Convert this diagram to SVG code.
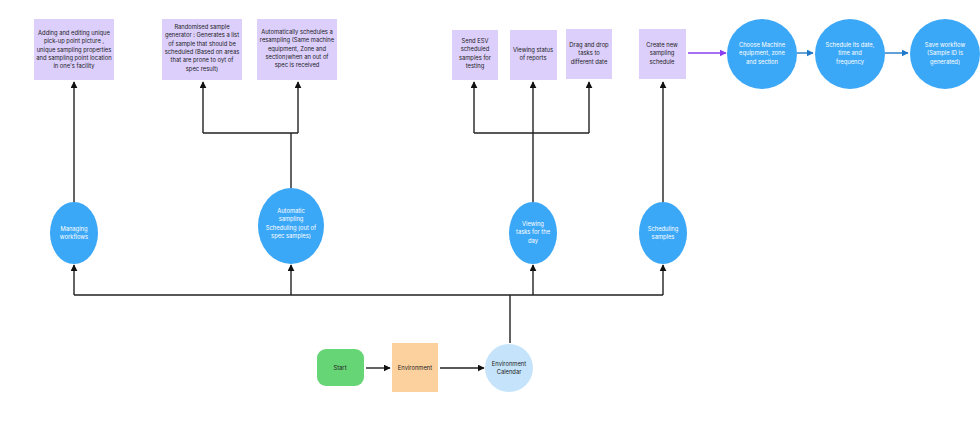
<svg xmlns="http://www.w3.org/2000/svg" width="980" height="437" viewBox="0 0 980 437">
<style>
text{font-family:Inter,"Liberation Sans",sans-serif;font-size:5.8px;text-anchor:middle}
.box{fill:#dccffc}
.bt{fill:#222}
.c{fill:#3ba7f7}
.ct{fill:#fff}
.l{stroke:#222;stroke-width:1.4;fill:none}
</style>
<defs>
<marker id="a" viewBox="0 0 10 10" refX="9" refY="5" markerWidth="5" markerHeight="5" orient="auto"><path d="M0 0L10 5L0 10z" fill="#111"/></marker>
<marker id="ap" viewBox="0 0 10 10" refX="9" refY="5" markerWidth="5" markerHeight="5" orient="auto"><path d="M0 0L10 5L0 10z" fill="#8a3ff0"/></marker>
<marker id="ab" viewBox="0 0 10 10" refX="9" refY="5" markerWidth="5" markerHeight="5" orient="auto"><path d="M0 0L10 5L0 10z" fill="#1f78c8"/></marker>
</defs>
<rect width="980" height="437" fill="#fff"/>
<g id="connectors">
<path class="l" d="M74 203V82" marker-end="url(#a)"/>
<path class="l" d="M291 188V133M203 133H298"/>
<path class="l" d="M298 133V82" marker-end="url(#a)"/>
<path class="l" d="M203 133V82" marker-end="url(#a)"/>
<path class="l" d="M533 203V133M474 133H589"/>
<path class="l" d="M474 133V82" marker-end="url(#a)"/>
<path class="l" d="M533 133V82" marker-end="url(#a)"/>
<path class="l" d="M589 133V82" marker-end="url(#a)"/>
<path class="l" d="M663 203V82" marker-end="url(#a)"/>
<path class="l" d="M510 343V295M74 295H663"/>
<path class="l" d="M74 295V265" marker-end="url(#a)"/>
<path class="l" d="M291 295V265" marker-end="url(#a)"/>
<path class="l" d="M533 295V265" marker-end="url(#a)"/>
<path class="l" d="M663 295V265" marker-end="url(#a)"/>
<path class="l" d="M366 368H390" marker-end="url(#a)"/>
<path class="l" d="M440 368H484" marker-end="url(#a)"/>
<path d="M688 53H726" stroke="#8a3ff0" stroke-width="1.4" marker-end="url(#ap)"/>
<path d="M797 53H813" stroke="#1f78c8" stroke-width="1.4" marker-end="url(#ab)"/>
<path d="M885 53H908" stroke="#1f78c8" stroke-width="1.4" marker-end="url(#ab)"/>
</g>
<g id="b1"><rect class="box" x="34" y="19" width="80" height="61"/><text class="bt" x="74" y="35">Adding and editing unique<tspan x="74" dy="8.3">pick-up point picture ,</tspan><tspan x="74" dy="8.3">unique sampling properties</tspan><tspan x="74" dy="8.3">and sampling point location</tspan><tspan x="74" dy="8.3">in one's facility</tspan></text></g>
<g id="b2"><rect class="box" x="162" y="19" width="80" height="61"/><text class="bt" x="202" y="29">Randomised sample<tspan x="202" dy="8.3">generator : Generates a list</tspan><tspan x="202" dy="8.3">of sample that should be</tspan><tspan x="202" dy="8.3">scheduled (Based on areas</tspan><tspan x="202" dy="8.3">that are prone to oyt of</tspan><tspan x="202" dy="8.3">spec result)</tspan></text></g>
<g id="b3"><rect class="box" x="257" y="19" width="80" height="61"/><text class="bt" x="297" y="34">Automatically schedules a<tspan x="297" dy="8.3">resampling (Same machine</tspan><tspan x="297" dy="8.3">equipment, Zone and</tspan><tspan x="297" dy="8.3">section)when an out of</tspan><tspan x="297" dy="8.3">spec is received</tspan></text></g>
<g id="b4"><rect class="box" x="452" y="30" width="46" height="50"/><text class="bt" x="475" y="43">Send ESV<tspan x="475" dy="8.3">scheduled</tspan><tspan x="475" dy="8.3">samples for</tspan><tspan x="475" dy="8.3">testing</tspan></text></g>
<g id="b5"><rect class="box" x="510" y="30" width="47" height="50"/><text class="bt" x="533" y="52">Viewing status<tspan x="533" dy="8.3">of reports</tspan></text></g>
<g id="b6"><rect class="box" x="566" y="29" width="46" height="50"/><text class="bt" x="589" y="47">Drag and drop<tspan x="589" dy="8.3">tasks to</tspan><tspan x="589" dy="8.3">different date</tspan></text></g>
<g id="b7"><rect class="box" x="639" y="29" width="47" height="50"/><text class="bt" x="662" y="47">Create new<tspan x="662" dy="8.3">sampling</tspan><tspan x="662" dy="8.3">schedule</tspan></text></g>
<g id="c1"><circle class="c" cx="762" cy="54" r="35"/><text class="ct" x="762" y="47">Choose Machine<tspan x="762" dy="8.3">equipment, zone</tspan><tspan x="762" dy="8.3">and section</tspan></text></g>
<g id="c2"><circle class="c" cx="850" cy="54" r="35"/><text class="ct" x="850" y="47">Schedule its date,<tspan x="850" dy="8.3">time and</tspan><tspan x="850" dy="8.3">frequency</tspan></text></g>
<g id="c3"><circle class="c" cx="945" cy="54" r="35"/><text class="ct" x="945" y="47">Save workflow<tspan x="945" dy="8.3">(Sample ID is</tspan><tspan x="945" dy="8.3">generated)</tspan></text></g>
<g id="m1"><ellipse class="c" cx="74" cy="233" rx="24" ry="31"/><text class="ct" x="74" y="231">Managing<tspan x="74" dy="8.3">workflows</tspan></text></g>
<g id="m2"><ellipse class="c" cx="291" cy="226" rx="33" ry="38"/><text class="ct" x="291" y="213">Automatic<tspan x="291" dy="8.3">sampling</tspan><tspan x="291" dy="8.3">Scheduling (out of</tspan><tspan x="291" dy="8.3">spec samples)</tspan></text></g>
<g id="m3"><ellipse class="c" cx="533" cy="233" rx="24" ry="31"/><text class="ct" x="533" y="226">Viewing<tspan x="533" dy="8.3">tasks for the</tspan><tspan x="533" dy="8.3">day</tspan></text></g>
<g id="m4"><ellipse class="c" cx="663" cy="233" rx="24" ry="31"/><text class="ct" x="663" y="231">Scheduling<tspan x="663" dy="8.3">samples</tspan></text></g>
<g id="start"><rect x="317" y="349" width="47" height="37" rx="9" fill="#66d575"/><text class="bt" x="340" y="370">Start</text></g>
<g id="env"><rect x="392" y="343" width="46" height="49" fill="#fdd19e"/><text class="bt" x="415" y="370">Environment</text></g>
<g id="cal"><circle cx="509" cy="368" r="24" fill="#c5e4fb"/><text class="bt" x="509" y="366">Environment<tspan x="509" dy="8.3">Calendar</tspan></text></g>
</svg>
